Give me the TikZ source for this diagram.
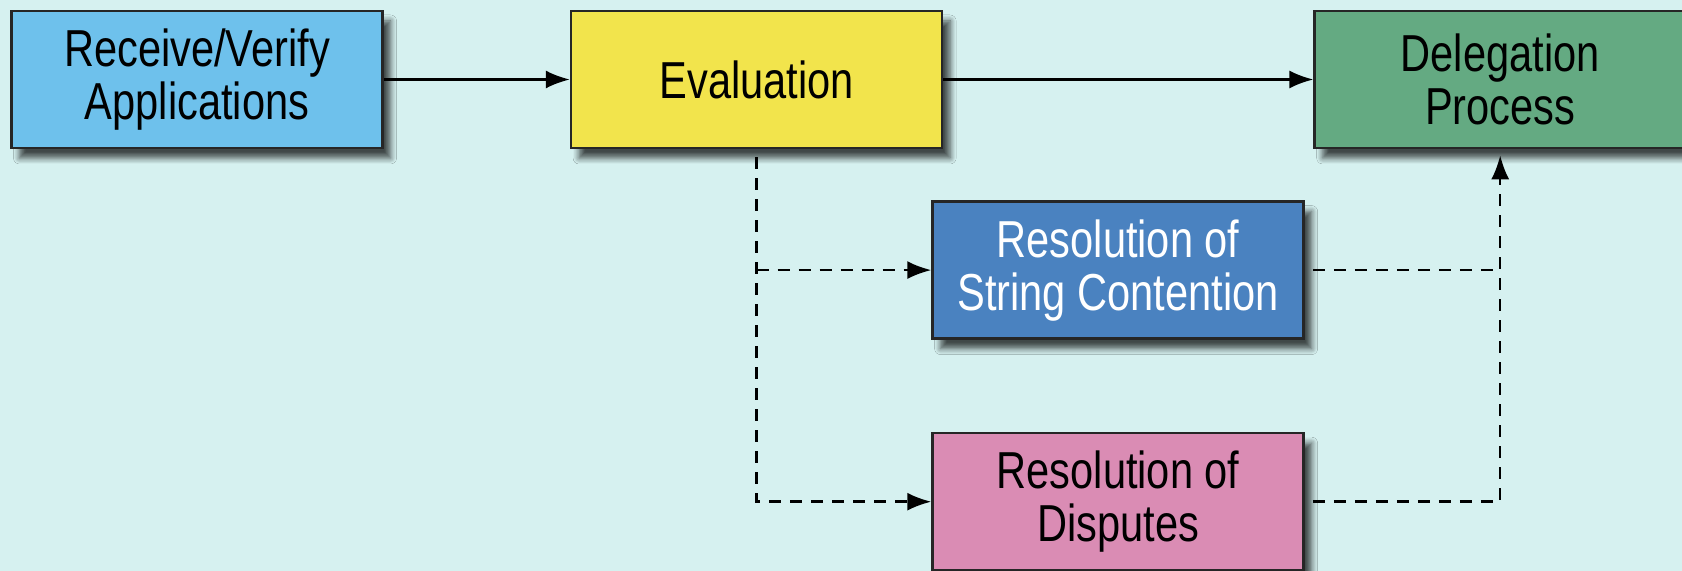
\documentclass[tikz,border=0pt]{standalone}
\usepackage{fontspec}
\setmainfont{Liberation Sans}[FakeStretch=0.8]
\usetikzlibrary{positioning,arrows.meta,shadows.blur}
\definecolor{bgcyan}{RGB}{214,241,240}
\definecolor{recvblue}{RGB}{110,193,236}
\definecolor{evalyellow}{RGB}{242,228,76}
\definecolor{delgreen}{RGB}{100,170,130}
\definecolor{strblue}{RGB}{74,130,192}
\definecolor{dispink}{RGB}{218,140,180}

\begin{document}
\begin{tikzpicture}[
	box/.style={draw=black!85, line width=1.3pt, minimum width=185.5pt, minimum height=68.5pt,
		align=center, inner sep=0pt, font=\fontsize{26}{26.5}\selectfont,
		blur shadow={shadow xshift=4pt, shadow yshift=-5pt, shadow blur radius=3pt, shadow blur steps=6, shadow opacity=70}},
	flow/.style={-{Latex[length=12pt,width=9pt]}, line width=1.2pt},
	alt/.style={flow, dash pattern=on 6pt off 4.5pt}
]
	\fill[bgcyan] (0,0) rectangle (841pt,-285.5pt);
	\useasboundingbox (0,0) rectangle (841pt,-285.5pt);
	\node[box, fill=recvblue] (recv) at (98.5pt,-39.75pt) {Receive/Verify\\Applications};
	\node[box, fill=evalyellow, right=93pt of recv] (eval) {Evaluation};
	\node[box, fill=delgreen, right=185pt of eval] (deleg) {Delegation\\Process};
	\node[box, fill=strblue, text=white, below=25.5pt of eval, xshift=180.75pt] (str) {Resolution of\\String Contention};
	\node[box, fill=dispink, below=46pt of str] (disp) {Resolution of\\Disputes};
	% junctions of the dashed lines
	\coordinate (split) at (eval.south |- str.west);
	\coordinate (join) at (deleg.south |- str.east);
	\draw[flow] (recv) -- (eval);
	\draw[flow] (eval) -- (deleg);
	\draw[alt] ([yshift=-4pt]eval.south) |- (disp.west);
	\draw[alt] (split) -- (str.west);
	\draw[alt] ([xshift=4pt]disp.east) -| ([yshift=-3pt]deleg.south);
	\draw[alt, -] ([xshift=4pt]str.east) -- (join);
\end{tikzpicture}
\end{document}
